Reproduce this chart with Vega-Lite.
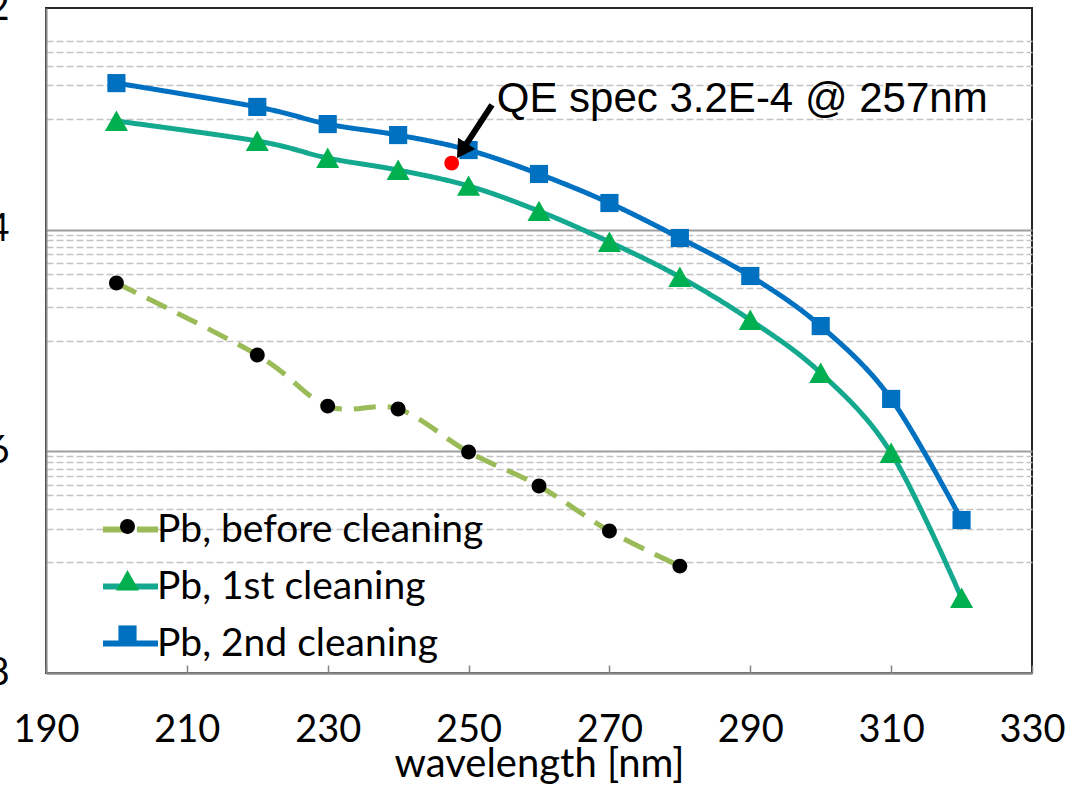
{
  "$schema": "https://vega.github.io/schema/vega-lite/v6.json",
  "width": 986,
  "height": 665,
  "autosize": "none",
  "padding": {"left": 46, "top": 8, "right": 46, "bottom": 114},
  "background": "white",
  "config": {"view": {"stroke": "#262626", "strokeWidth": 2}, "font": "Lato"},
  "datasets": {
    "qe": [
      {"wavelength": 200, "qe": 3.30e-5, "series": "Pb, before cleaning"},
      {"wavelength": 220, "qe": 7.40e-6, "series": "Pb, before cleaning"},
      {"wavelength": 230, "qe": 2.56e-6, "series": "Pb, before cleaning"},
      {"wavelength": 240, "qe": 2.41e-6, "series": "Pb, before cleaning"},
      {"wavelength": 250, "qe": 9.86e-7, "series": "Pb, before cleaning"},
      {"wavelength": 260, "qe": 4.87e-7, "series": "Pb, before cleaning"},
      {"wavelength": 270, "qe": 1.91e-7, "series": "Pb, before cleaning"},
      {"wavelength": 280, "qe": 9.22e-8, "series": "Pb, before cleaning"},
      {"wavelength": 200, "qe": 9.55e-4, "series": "Pb, 1st cleaning"},
      {"wavelength": 220, "qe": 6.31e-4, "series": "Pb, 1st cleaning"},
      {"wavelength": 230, "qe": 4.43e-4, "series": "Pb, 1st cleaning"},
      {"wavelength": 240, "qe": 3.45e-4, "series": "Pb, 1st cleaning"},
      {"wavelength": 250, "qe": 2.48e-4, "series": "Pb, 1st cleaning"},
      {"wavelength": 260, "qe": 1.47e-4, "series": "Pb, 1st cleaning"},
      {"wavelength": 270, "qe": 7.74e-5, "series": "Pb, 1st cleaning"},
      {"wavelength": 280, "qe": 3.74e-5, "series": "Pb, 1st cleaning"},
      {"wavelength": 290, "qe": 1.53e-5, "series": "Pb, 1st cleaning"},
      {"wavelength": 300, "qe": 5.09e-6, "series": "Pb, 1st cleaning"},
      {"wavelength": 310, "qe": 9.66e-7, "series": "Pb, 1st cleaning"},
      {"wavelength": 320, "qe": 4.75e-8, "series": "Pb, 1st cleaning"},
      {"wavelength": 200, "qe": 2.10e-3, "series": "Pb, 2nd cleaning"},
      {"wavelength": 220, "qe": 1.28e-3, "series": "Pb, 2nd cleaning"},
      {"wavelength": 230, "qe": 8.97e-4, "series": "Pb, 2nd cleaning"},
      {"wavelength": 240, "qe": 7.14e-4, "series": "Pb, 2nd cleaning"},
      {"wavelength": 250, "qe": 5.23e-4, "series": "Pb, 2nd cleaning"},
      {"wavelength": 260, "qe": 3.18e-4, "series": "Pb, 2nd cleaning"},
      {"wavelength": 270, "qe": 1.74e-4, "series": "Pb, 2nd cleaning"},
      {"wavelength": 280, "qe": 8.41e-5, "series": "Pb, 2nd cleaning"},
      {"wavelength": 290, "qe": 3.82e-5, "series": "Pb, 2nd cleaning"},
      {"wavelength": 300, "qe": 1.35e-5, "series": "Pb, 2nd cleaning"},
      {"wavelength": 310, "qe": 2.97e-6, "series": "Pb, 2nd cleaning"},
      {"wavelength": 320, "qe": 2.40e-7, "series": "Pb, 2nd cleaning"}
    ],
    "spec": [{"wavelength": 247.6, "qe": 3.99e-4}],
    "arrow": [{"w1": 253.32, "q1": 1.334e-3, "w2": 249.04, "q2": 5.15e-4}],
    "note": [{"wavelength": 254.0, "qe": 1.153e-3, "text": "QE spec 3.2E-4 @ 257nm"}]
  },
  "layer": [
    {
      "data": {"name": "qe"},
      "mark": {"type": "line", "interpolate": "cardinal", "strokeWidth": 5},
      "encoding": {
        "x": {
          "field": "wavelength", "type": "quantitative",
          "scale": {"domain": [190, 330], "nice": false, "zero": false},
          "axis": {
            "values": [190, 210, 230, 250, 270, 290, 310, 330],
            "grid": false,
            "title": "wavelength [nm]",
            "titleFontSize": 40, "titleFontWeight": "normal", "titleColor": "black", "titleFont": "Lato",
            "titlePadding": -5,
            "labelFontSize": 38, "labelColor": "black", "labelFont": "Lato",
            "labelPadding": 46,
            "labelFlush": false,
            "labelOverlap": false,
            "ticks": true, "tickSize": -8, "tickColor": "#868686", "tickWidth": 1.5,
            "domainColor": "#868686", "domainWidth": 2
          }
        },
        "y": {
          "field": "qe", "type": "quantitative",
          "scale": {"type": "log", "domain": [1e-8, 1e-2], "nice": false},
          "axis": {
            "values": [1e-8, 1e-7, 2e-7, 3e-7, 4e-7, 5e-7, 6e-7, 7e-7, 8e-7, 9e-7, 1e-6, 1e-5, 2e-5, 3e-5, 4e-5, 5e-5, 6e-5, 7e-5, 8e-5, 9e-5, 1e-4, 1e-3, 2e-3, 3e-3, 4e-3, 5e-3, 6e-3, 7e-3, 8e-3, 9e-3, 1e-2],
            "title": null,
            "grid": true,
            "gridColor": {"condition": {"test": "abs(log(datum.value)/LN10 - round(log(datum.value)/LN10)) < 0.001 && abs(round(log(datum.value)/LN10)) % 2 == 0", "value": "#9E9E9E"}, "value": "#C4C4C4"},
            "gridDash": {"condition": {"test": "abs(log(datum.value)/LN10 - round(log(datum.value)/LN10)) < 0.001 && abs(round(log(datum.value)/LN10)) % 2 == 0", "value": []}, "value": [7, 3]},
            "gridWidth": {"condition": {"test": "abs(log(datum.value)/LN10 - round(log(datum.value)/LN10)) < 0.001 && abs(round(log(datum.value)/LN10)) % 2 == 0", "value": 2}, "value": 1.5},
            "gridOpacity": {"condition": {"test": "datum.value > 5e-3", "value": 0}, "value": 1},
            "ticks": false,
            "labelExpr": "(abs(log(datum.value)/LN10 - round(log(datum.value)/LN10)) < 0.001 && abs(round(log(datum.value)/LN10)) % 2 == 0) ? '1.E-0' + abs(round(log(datum.value)/LN10)) : ''",
            "labelFontSize": 38, "labelColor": "black", "labelFont": "Lato",
            "labelPadding": 37,
            "labelOverlap": false,
            "labelFlush": false,
            "domainColor": "#868686", "domainWidth": 2
          }
        },
        "stroke": {
          "field": "series", "type": "nominal",
          "scale": {"domain": ["Pb, before cleaning", "Pb, 1st cleaning", "Pb, 2nd cleaning"], "range": ["#9BBB59", "#14A98F", "#0070C0"]},
          "legend": {"title": null, "orient": "none", "legendX": 54, "legendY": 491, "symbolType": "stroke", "symbolSize": 3025, "symbolStrokeWidth": 6, "labelFontSize": 39, "labelFont": "Lato", "labelColor": "black", "labelLimit": 0, "labelOffset": -4, "rowPadding": 6, "padding": 0, "zindex": 1}
        },
        "strokeDash": {
          "field": "series", "type": "nominal",
          "scale": {"domain": ["Pb, before cleaning", "Pb, 1st cleaning", "Pb, 2nd cleaning"], "range": [[22, 12], [1, 0], [1, 0]]},
          "legend": {"title": null, "orient": "none", "legendX": 54, "legendY": 491, "symbolType": "stroke", "symbolSize": 3025, "symbolStrokeWidth": 6, "labelFontSize": 39, "labelFont": "Lato", "labelColor": "black", "labelLimit": 0, "labelOffset": -4, "rowPadding": 6, "padding": 0, "zindex": 1}
        }
      }
    },
    {
      "data": {"name": "qe"},
      "mark": {"type": "point", "filled": true, "size": 3025, "opacity": 1},
      "encoding": {
        "x": {"field": "wavelength", "type": "quantitative"},
        "y": {"field": "qe", "type": "quantitative"},
        "fill": {
          "field": "series", "type": "nominal",
          "sort": null,
          "scale": {"range": ["#000000", "#00B050", "#0070C0"]},
          "legend": {"title": null, "orient": "none", "legendX": 54, "legendY": 491, "symbolSize": 3025, "symbolStrokeWidth": 0, "symbolOpacity": 1, "labelFontSize": 39, "labelFont": "Lato", "labelColor": "rgba(0,0,0,0)", "labelLimit": 0, "labelOffset": -4, "rowPadding": 6, "padding": 0, "zindex": 2}
        },
        "shape": {
          "field": "series", "type": "nominal",
          "sort": null,
          "scale": {"range": ["M-0.27,0A0.27,0.27,0,1,0,0.27,0A0.27,0.27,0,1,0,-0.27,0Z", "M0,-0.38L0.42,0.36L-0.42,0.36Z", "M-0.33,-0.33H0.33V0.33H-0.33Z"]},
          "legend": {"title": null, "orient": "none", "legendX": 54, "legendY": 491, "symbolSize": 3025, "symbolStrokeWidth": 0, "symbolOpacity": 1, "labelFontSize": 39, "labelFont": "Lato", "labelColor": "rgba(0,0,0,0)", "labelLimit": 0, "labelOffset": -4, "rowPadding": 6, "padding": 0, "zindex": 2}
        }
      }
    },
    {
      "data": {"name": "spec"},
      "mark": {"type": "circle", "size": 220, "color": "#FF0000", "opacity": 1},
      "encoding": {
        "x": {"field": "wavelength", "type": "quantitative"},
        "y": {"field": "qe", "type": "quantitative"}
      }
    },
    {
      "data": {"name": "arrow"},
      "mark": {"type": "rule", "strokeWidth": 6, "color": "black"},
      "encoding": {
        "x": {"field": "w1", "type": "quantitative"},
        "y": {"field": "q1", "type": "quantitative"},
        "x2": {"field": "w2"},
        "y2": {"field": "q2"}
      }
    },
    {
      "data": {"name": "arrow"},
      "mark": {"type": "point", "shape": "triangle-up", "filled": true, "size": 420, "angle": 213, "color": "black", "opacity": 1},
      "encoding": {
        "x": {"field": "w2", "type": "quantitative"},
        "y": {"field": "q2", "type": "quantitative"}
      }
    },
    {
      "data": {"name": "note"},
      "mark": {"type": "text", "align": "left", "baseline": "alphabetic", "fontSize": 42, "font": "Liberation Sans", "color": "black"},
      "encoding": {
        "x": {"field": "wavelength", "type": "quantitative"},
        "y": {"field": "qe", "type": "quantitative"},
        "text": {"field": "text"}
      }
    }
  ]
}
